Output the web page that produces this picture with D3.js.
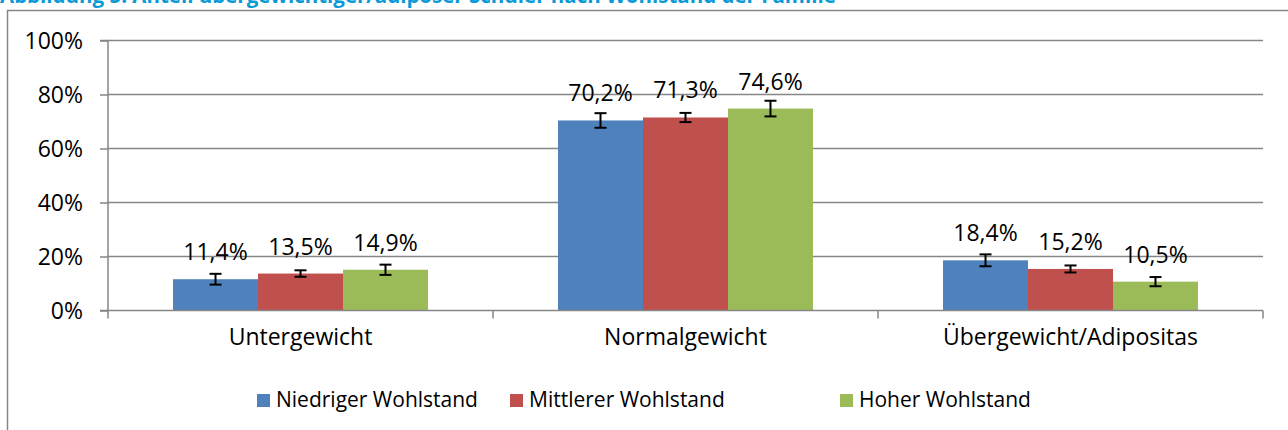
<!DOCTYPE html>
<html><head><meta charset="utf-8">
<script src="https://cdn.jsdelivr.net/npm/d3@7"></script>
<style>body{margin:0;background:#fff;} svg{display:block;}</style>
</head><body>
<svg id="c" width="1288" height="430"></svg>
<script>
const categories = ["Untergewicht", "Normalgewicht", "Übergewicht/Adipositas"];
const seriesNames = ["Niedriger Wohlstand", "Mittlerer Wohlstand", "Hoher Wohlstand"];
const seriesColors = ["#4F81BD", "#C0504D", "#9BBB59"];
const niedrig = [11.4, 70.2, 18.4];
const mittel = [13.5, 71.3, 15.2];
const hoch = [14.9, 74.6, 10.5];
const errNiedrig = [2.0, 2.7, 2.2];
const errMittel = [1.2, 1.7, 1.3];
const errHoch = [1.9, 2.9, 1.7];
const yTicks = [0, 20, 40, 60, 80, 100];
const title = "Abbildung 5: Anteil übergewichtiger/adipöser Schüler nach Wohlstand der Familie";

const values = [niedrig, mittel, hoch];
const errs = [errNiedrig, errMittel, errHoch];
const FONT = "'Open Sans', 'Liberation Sans', sans-serif";
const svg = d3.select("#c");
const pLeft = 108, pRight = 1263, pTop = 40, pBottom = 310;

// title (cut off at top, as in the reference)
svg.append("text").attr("x", 0).attr("y", 3).attr("font-family", FONT)
  .attr("font-weight", "bold").attr("font-size", 20.5).attr("fill", "#0A9AD7").text(title);

// outer border
svg.append("path").attr("d", "M7.5,430 V10.5 H1288").attr("fill", "none").attr("stroke", "#868686").attr("stroke-width", 1.5);

const x0 = d3.scaleBand().domain(categories).range([pLeft, pRight]).padding(0);
const x1 = d3.scaleBand().domain(seriesNames).range([0, x0.bandwidth()]).paddingInner(0).paddingOuter(0.765);
const y = d3.scaleLinear().domain([0, 100]).range([pBottom, pTop]);

// gridlines
svg.append("g").selectAll("line").data(yTicks.filter(d => d > 0)).join("line")
  .attr("x1", pLeft).attr("x2", pRight).attr("y1", d => y(d) + 0.5).attr("y2", d => y(d) + 0.5)
  .attr("stroke", "#868686").attr("stroke-width", 1.5);

// y axis
const yAxis = d3.axisLeft(y).tickValues(yTicks).tickFormat(d => d + "%").tickSize(8).tickPadding(17);
const ya = svg.append("g").attr("transform", `translate(${pLeft},0.5)`).call(yAxis);
ya.select(".domain").attr("stroke", "#868686").attr("stroke-width", 1.5).attr("d", `M-8,${pBottom}H0V${pTop}H-8`);
ya.selectAll(".tick line").attr("stroke", "#868686").attr("stroke-width", 1.5);
ya.selectAll(".tick text").attr("font-family", FONT).attr("font-size", 23).attr("fill", "#000").attr("dy", "0.36em");

// bars
const groups = svg.append("g").selectAll("g").data(categories).join("g")
  .attr("transform", c => `translate(${x0(c)},0)`);
seriesNames.forEach((s, si) => {
  groups.append("rect")
    .attr("x", (c) => x1(s)).attr("width", x1.bandwidth())
    .attr("y", (c, ci) => y(values[si][ci])).attr("height", (c, ci) => y(0) - y(values[si][ci]))
    .attr("fill", seriesColors[si]);
});

// x axis
const xa = svg.append("g").attr("transform", `translate(0,${pBottom + 0.5})`);
xa.append("line").attr("x1", pLeft).attr("x2", pRight).attr("stroke", "#868686").attr("stroke-width", 1.5);
const bounds = categories.map(c => x0(c)).concat([pRight]);
xa.selectAll(".tk").data(bounds).join("line").attr("class", "tk")
  .attr("x1", d => d).attr("x2", d => d).attr("y1", 0).attr("y2", 8)
  .attr("stroke", "#868686").attr("stroke-width", 1.5);
xa.selectAll(".cl").data(categories).join("text").attr("class", "cl")
  .attr("x", c => x0(c) + x0.bandwidth() / 2).attr("y", 34).attr("text-anchor", "middle")
  .attr("font-family", FONT).attr("font-size", 23).attr("fill", "#000").text(c => c);

// error bars and labels
seriesNames.forEach((s, si) => {
  categories.forEach((c, ci) => {
    const cx = x0(c) + x1(s) + x1.bandwidth() / 2;
    const v = values[si][ci], e = errs[si][ci];
    const g = svg.append("g").attr("stroke", "#000").attr("stroke-width", 2);
    g.append("line").attr("x1", cx).attr("x2", cx).attr("y1", y(v + e)).attr("y2", y(v - e));
    g.append("line").attr("x1", cx - 6).attr("x2", cx + 6).attr("y1", y(v + e)).attr("y2", y(v + e));
    g.append("line").attr("x1", cx - 6).attr("x2", cx + 6).attr("y1", y(v - e)).attr("y2", y(v - e));
    svg.append("text").attr("x", cx).attr("y", y(v) - 19).attr("text-anchor", "middle")
      .attr("font-family", FONT).attr("font-size", 23).attr("fill", "#000")
      .text(d3.format(".1f")(v).replace(".", ",") + "%");
  });
});

// legend
const legX = [257, 510, 840];
const lg = svg.append("g");
seriesNames.forEach((s, i) => {
  lg.append("rect").attr("x", legX[i]).attr("y", 394).attr("width", 13).attr("height", 13).attr("fill", seriesColors[i]);
  lg.append("text").attr("x", legX[i] + 19).attr("y", 407).attr("font-family", FONT)
    .attr("font-size", 21).attr("fill", "#000").text(s);
});
</script>
</body></html>
